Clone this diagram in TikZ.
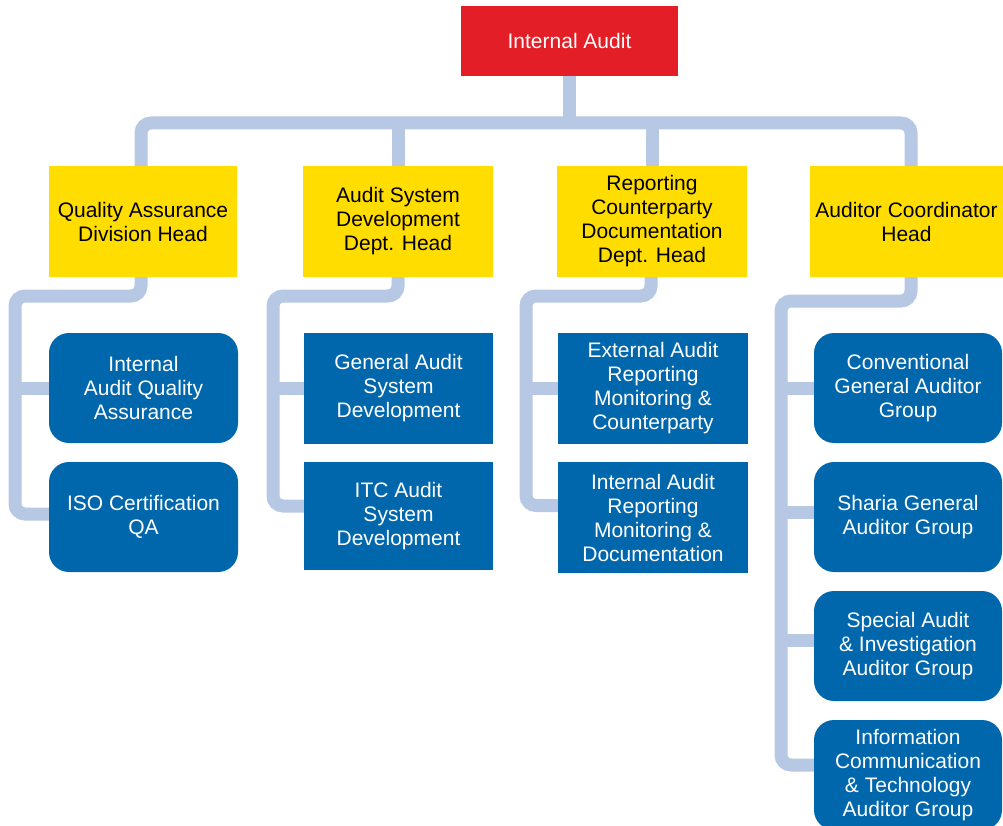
\documentclass[tikz,border=0pt]{standalone}
\usepackage{fontspec}
\setmainfont{Liberation Sans}
\usetikzlibrary{backgrounds}
\begin{document}
\begin{tikzpicture}[x=1pt,y=-1pt,
  every node/.style={inner sep=0pt, align=center, font=\fontsize{21}{24}\selectfont},
  topbox/.style={fill=auditred, text=white, minimum width=217, minimum height=70},
  headbox/.style={fill=headyellow, text=black, minimum height=111},
  unitbox/.style={fill=unitblue, text=white, minimum height=110},
  roundbox/.style={unitbox, rounded corners=20},
  conn/.style={draw=linkblue, line width=13pt, rounded corners=10},
  tee/.style={draw=linkblue, line width=13pt},
]
\definecolor{auditred}{HTML}{E41E26}
\definecolor{headyellow}{HTML}{FFDD00}
\definecolor{unitblue}{HTML}{0067AC}
\definecolor{linkblue}{HTML}{B6C8E3}
\useasboundingbox (0,0) rectangle (1003,826);

% boxes
\node[topbox] (root) at (569.5,41) {Internal Audit};
\node[headbox, minimum width=188] (h1) at (143,221.5) {Quality Assurance\\Division Head};
\node[headbox, minimum width=190] (h2) at (398,221.5) {Audit System\\Development\\Dept. Head};
\node[headbox, minimum width=190] (h3) at (652,221.5) {Reporting\\Counterparty\\Documentation\\Dept. Head};
\node[headbox, minimum width=193] (h4) at (906.5,221.5) {Auditor Coordinator\\Head};
\node[roundbox, minimum width=189] (b11) at (143.5,388) {Internal\\Audit Quality\\Assurance};
\node[roundbox, minimum width=189] (b12) at (143.5,517) {ISO Certification\\QA};
\node[unitbox, minimum width=189, minimum height=111] (b21) at (398.5,388.5) {General Audit\\System\\Development};
\node[unitbox, minimum width=189, minimum height=108] (b22) at (398.5,516) {ITC Audit\\System\\Development};
\node[unitbox, minimum width=190, minimum height=111] (b31) at (653,388.5) {External Audit\\Reporting\\Monitoring \&\\Counterparty};
\node[unitbox, minimum width=190, minimum height=111] (b32) at (653,517.5) {Internal Audit\\Reporting\\Monitoring \&\\Documentation};
\node[roundbox, minimum width=188] (b41) at (908,388) {Conventional\\General Auditor\\Group};
\node[roundbox, minimum width=188] (b42) at (908,517) {Sharia General\\Auditor Group};
\node[roundbox, minimum width=188] (b43) at (908,646) {Special Audit\\\& Investigation\\Auditor Group};
\node[roundbox, minimum width=188] (b44) at (908,775) {Information\\Communication\\\& Technology\\Auditor Group};

% connector routing points
\coordinate (bus) at (0,123);
\coordinate (s1) at (15,296);
\coordinate (s2) at (273,296);
\coordinate (s3) at (526,296);
\coordinate (s4) at (781,301);
\coordinate (d1) at ([xshift=-2pt]h1.north);
\coordinate (d4) at ([xshift=4.5pt]h4.north);

\begin{scope}[on background layer]
  % top bus
  \draw[tee] (root.south) -- (root.south |- bus);
  \draw[conn] (d1) |- (d4 |- bus) -- (d4);
  \draw[tee] (h2.north) -- (h2.north |- bus);
  \draw[tee] (h3.north) -- (h3.north |- bus);
  % column 1
  \draw[conn] ([xshift=-2pt]h1.south) |- (s1) |- ([yshift=3pt]b12.west);
  \draw[tee] (b11.west) -- (b11.west -| s1);
  % column 2
  \draw[conn] (h2.south) |- (s2) |- ([yshift=10pt]b22.west);
  \draw[tee] (b21.west) -- (b21.west -| s2);
  % column 3
  \draw[conn] ([xshift=-1pt]h3.south) |- (s3) |- ([yshift=12pt]b32.west);
  \draw[tee] (b31.west) -- (b31.west -| s3);
  % column 4
  \draw[conn] ([xshift=4.5pt]h4.south) |- (s4) |- ([yshift=10pt]b44.west);
  \draw[tee] (b41.west) -- (b41.west -| s4);
  \draw[tee] ([yshift=5pt]b42.west) -- ([yshift=5pt]b42.west -| s4);
  \draw[tee] ([yshift=6pt]b43.west) -- ([yshift=6pt]b43.west -| s4);
\end{scope}
\end{tikzpicture}
\end{document}
